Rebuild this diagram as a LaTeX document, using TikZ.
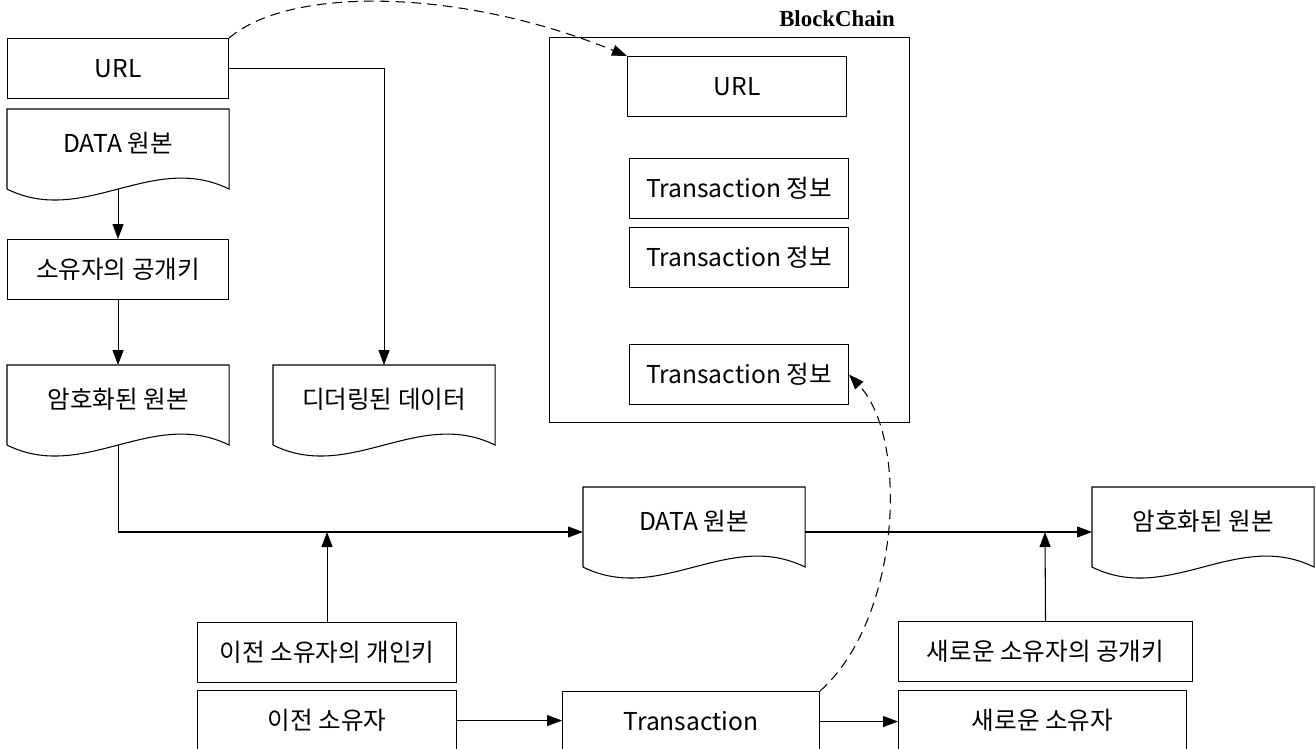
\documentclass[tikz,border=0pt]{standalone}
\usepackage{fontspec}
\setmainfont{Noto Sans CJK KR}
\newfontfamily\chainfont{Liberation Serif}
\usetikzlibrary{arrows.meta}

\tikzset{
  box/.style={draw, rectangle, anchor=north west, inner sep=0pt,
    minimum height=60*0.02cm, font=\fontsize{14}{16}\selectfont},
  doc/.style={rectangle, anchor=north west, inner sep=0pt,
    minimum width=221*0.02cm, minimum height=68*0.02cm,
    font=\fontsize{14}{16}\selectfont},
  flow/.style={->},
  hop/.style={->, dash pattern=on 5.5pt off 3.5pt}
}

\begin{document}
\begin{tikzpicture}[x=0.02cm, y=-0.02cm, line width=0.6pt,
    >={Triangle[length=0.3cm, width=0.22cm]}]
    \useasboundingbox (0,0) rectangle (1316,748);
    \clip (0,0) rectangle (1316,748);
    \def\wv{0.22cm}% drop of the wavy bottom below the text area

    % left column
    \node[box, minimum width=221*0.02cm] (urlA) at (7,38) {URL};
    \node[doc] (dataA) at (7,109) {DATA 원본};
    \node[box, minimum width=221*0.02cm] (keyA) at (7,239) {소유자의 공개키};
    \node[doc] (cryptA) at (7,365) {암호화된 원본};
    \node[doc] (dither) at (273,365) {디더링된 데이터};

    % the chain and what it stores
    \node[box, minimum width=360*0.02cm, minimum height=385*0.02cm] (chain) at (549,37) {};
    \node[font=\chainfont\bfseries\fontsize{13}{15}\selectfont] (chainlbl) at (837,19) {BlockChain};
    \node[box, minimum width=219*0.02cm] (urlB) at (627,56) {URL};
    \node[box, minimum width=219*0.02cm] (txA) at (629,158) {Transaction 정보};
    \node[box, minimum width=219*0.02cm] (txB) at (629,227) {Transaction 정보};
    \node[box, minimum width=219*0.02cm] (txC) at (629,344) {Transaction 정보};

    % middle row
    \node[doc] (dataB) at (583,487) {DATA 원본};
    \node[doc] (cryptB) at (1092,487) {암호화된 원본};
    \coordinate (joinA) at (326,532);
    \coordinate (joinB) at (1045,532);

    % bottom rows (cut by the lower edge)
    \node[box, minimum width=259*0.02cm] (privA) at (197,622) {이전 소유자의 개인키};
    \node[box, minimum width=259*0.02cm] (prevA) at (197,690) {이전 소유자};
    \node[box, minimum width=257*0.02cm] (trans) at (562,691) {Transaction};
    \node[box, minimum width=294*0.02cm] (pubB) at (898,621) {새로운 소유자의 공개키};
    \node[box, minimum width=288*0.02cm] (newB) at (898,690) {새로운 소유자};

    % document outlines with a wavy bottom
    \foreach \n in {dataA,cryptA,dither,dataB,cryptB}{
      \draw ([yshift=-\wv]\n.south west) -- (\n.north west) -- (\n.north east)
        -- ([yshift=-\wv]\n.south east)
        .. controls +(-77,-38) and +(77,38) .. ([yshift=-\wv]\n.south west);
    }

    \draw[flow] (urlA.east) -| (dither.north);
    \draw[flow] ([yshift=-\wv]dataA.south) -- (keyA.north);
    \draw[flow] (keyA.south) -- (cryptA.north);
    \draw[flow] ([yshift=-\wv]cryptA.south) |- (joinA -| dataB.west);
    \draw[flow] (privA.north) -- (privA.north |- joinA);
    \draw[flow] (joinA -| dataB.east) -- (joinB -| cryptB.west);
    \draw[flow] (pubB.north) -- (joinB);
    \draw[flow] (prevA.east) -- (prevA.east -| trans.west);
    \draw[flow] (trans.east) -- (trans.east -| newB.west);
    % dashed links into the chain
    \draw[hop] (urlA.north east) .. controls (290,-14) and (460,-12) .. (urlB.north west);
    \draw[hop] (trans.north east) .. controls (900,620) and (910,440) .. (txC.east);
\end{tikzpicture}
\end{document}
